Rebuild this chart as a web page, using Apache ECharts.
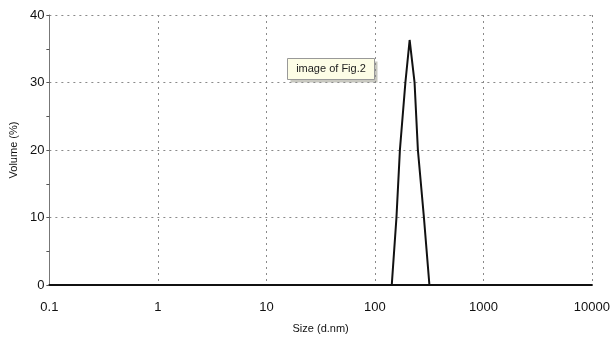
<!DOCTYPE html>
<html>
<head>
<meta charset="utf-8">
<script src="https://cdn.jsdelivr.net/npm/echarts@6/dist/echarts.min.js"></script>
<style>
  html, body { margin: 0; padding: 0; background: #fff; }
  #chart { width: 613px; height: 340px; }
</style>
</head>
<body>
<div id="chart"></div>
<script>
// size distribution
const sizes = [0.1, 1, 10, 100, 143, 158, 170, 191, 209, 232, 249, 283, 318, 1000, 10000];
const volumes = [0, 0, 0, 0, 0, 10, 20, 30, 36.3, 30, 20, 10, 0, 0, 0];
const yTicks = [0, 10, 20, 30, 40];
const noteText = "image of Fig.2";

const chart = echarts.init(document.getElementById("chart"));

const dotted = { show: true, lineStyle: { color: "#8a8a8a", type: [2, 4], width: 1 } };

const option = {
  animation: false,
  grid: { left: 48, right: 18, top: 15, bottom: 55 },
  xAxis: {
    type: "log",
    logBase: 10,
    min: 0.1,
    max: 10000,
    name: "Size (d.nm)",
    nameLocation: "middle",
    nameGap: 38,
    nameTextStyle: { fontFamily: "Liberation Sans", fontSize: 11, color: "#111" },
    axisLine: { show: true, lineStyle: { color: "#111", width: 2 } },
    axisTick: { show: false },
    axisLabel: {
      fontFamily: "Liberation Sans",
      fontSize: 13,
      color: "#111",
      margin: 16,
      formatter: (v) => String(v)
    },
    splitLine: dotted
  },
  yAxis: {
    type: "value",
    min: yTicks[0],
    max: yTicks[yTicks.length - 1],
    interval: 10,
    name: "Volume (%)",
    nameLocation: "middle",
    nameGap: 30,
    nameTextStyle: { fontFamily: "Liberation Sans", fontSize: 11, color: "#111" },
    axisLine: { show: true, lineStyle: { color: "#777", width: 1 } },
    axisTick: { show: true, length: 3, lineStyle: { color: "#555" } },
    minorTick: { show: true, splitNumber: 2, length: 3, lineStyle: { color: "#555" } },
    axisLabel: { fontFamily: "Liberation Sans", fontSize: 13, color: "#111", margin: 5 },
    splitLine: dotted
  },
  series: [{
    type: "line",
    data: sizes.map((s, i) => [s, volumes[i]]),
    symbol: "none",
    lineStyle: { color: "#111", width: 2 },
    z: 5
  }],
  graphic: [{
    type: "group",
    left: 287,
    top: 58,
    children: [
      { type: "rect", shape: { x: 3, y: 3, width: 87, height: 21 }, style: { fill: "#c8c8c0" } },
      { type: "rect", shape: { x: 0, y: 0, width: 87, height: 21 }, style: { fill: "#fdfde6", stroke: "#999", lineWidth: 1 } },
      { type: "text", style: { x: 43.5, y: 10.5, text: noteText, align: "center", verticalAlign: "middle",
        font: "11px Liberation Sans", fill: "#222" } }
    ]
  }]
};

chart.setOption(option);
</script>
</body>
</html>
